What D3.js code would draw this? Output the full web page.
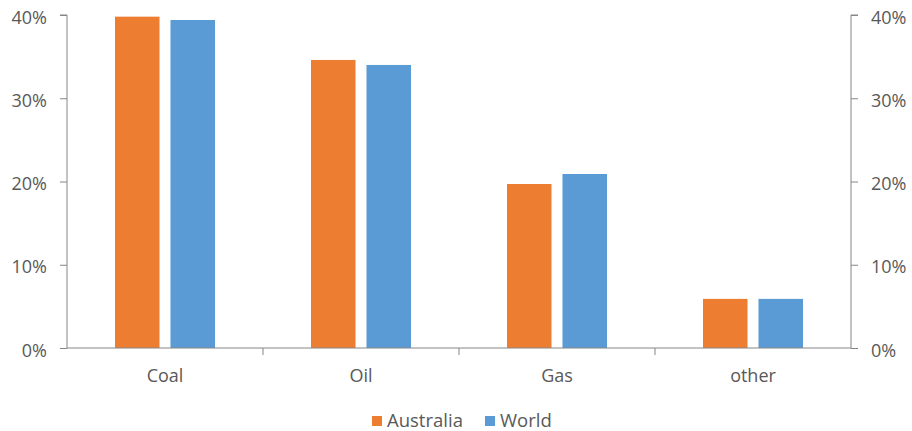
<!DOCTYPE html>
<html>
<head>
<meta charset="utf-8">
<script src="https://cdn.jsdelivr.net/npm/d3@7"></script>
<style>
  body { margin: 0; background: #fff; }
  svg text { font-family: "Open Sans", sans-serif; fill: #595959; }
</style>
</head>
<body>
<svg id="chart" width="912" height="431"></svg>
<script>
// fuentes de energía y su participación
const categories = ["Coal", "Oil", "Gas", "other"];
const series = ["Australia", "World"];
const australia = [0.398, 0.346, 0.197, 0.059];
const world = [0.394, 0.340, 0.209, 0.059];
const yTicks = [0, 0.1, 0.2, 0.3, 0.4];
const colors = ["#ed7d31", "#5b9bd5"];

const width = 912, height = 431;
const margin = { top: 15, right: 61, bottom: 83, left: 67 };
const fontSize = 18;

const svg = d3.select("#chart");

const x0 = d3.scaleBand()
    .domain(categories)
    .range([margin.left, width - margin.right])
    .padding(0);

const x1 = d3.scaleBand()
    .domain(series)
    .range([0, x0.bandwidth()])
    .paddingInner(0.198)
    .paddingOuter(0.865);

const y = d3.scaleLinear()
    .domain([0, 0.4])
    .range([height - margin.bottom, margin.top]);

const color = d3.scaleOrdinal().domain(series).range(colors);
const valores = { Australia: australia, World: world };

// barras
svg.append("g")
    .selectAll("g")
    .data(categories)
    .join("g")
    .attr("transform", d => `translate(${x0(d)},0)`)
    .selectAll("rect")
    .data((d, i) => series.map(s => ({ s, v: valores[s][i] })))
    .join("rect")
    .attr("x", d => x1(d.s))
    .attr("width", x1.bandwidth())
    .attr("y", d => y(d.v))
    .attr("height", d => y(0) - y(d.v))
    .attr("fill", d => color(d.s));

const fmt = d3.format(".0%");

// eje izquierdo
const left = svg.append("g")
    .attr("transform", `translate(${margin.left},0)`)
    .call(d3.axisLeft(y).tickValues(yTicks).tickFormat(fmt).tickSize(7));

// eje derecho
const right = svg.append("g")
    .attr("transform", `translate(${width - margin.right},0)`)
    .call(d3.axisRight(y).tickValues(yTicks).tickFormat(fmt).tickSize(7));

// eje x con marcas en los bordes de las categorías
const xAxis = svg.append("g")
    .attr("transform", `translate(0,${y(0)})`);
xAxis.append("line")
    .attr("x1", margin.left).attr("x2", width - margin.right)
    .attr("stroke", "#868686");
xAxis.selectAll("line.tick")
    .data(categories.slice(1))
    .join("line")
    .attr("class", "tick")
    .attr("x1", d => x0(d)).attr("x2", d => x0(d))
    .attr("y1", 0).attr("y2", 7)
    .attr("stroke", "#868686");
xAxis.selectAll("text")
    .data(categories)
    .join("text")
    .attr("x", d => x0(d) + x0.bandwidth() / 2)
    .attr("y", 34)
    .attr("text-anchor", "middle")
    .attr("font-size", fontSize)
    .text(d => d);

[left, right].forEach(g => {
    g.select(".domain").attr("stroke", "#868686").attr("d", g === left
        ? `M-7,${y(0.4)}H0V${y(0)}`
        : `M7,${y(0.4)}H0V${y(0)}`);
    g.selectAll(".tick line").attr("stroke", "#868686");
    g.selectAll(".tick text").attr("font-size", fontSize).attr("fill", "#595959")
        .attr("dy", "0.45em")
        .style("font-family", '"Open Sans", sans-serif');
});
left.selectAll(".tick text").attr("x", -20);
right.selectAll(".tick text").attr("x", 20);

// leyenda
const legend = svg.append("g").attr("transform", "translate(372,421)");
const items = legend.selectAll("g")
    .data(series)
    .join("g")
    .attr("transform", (d, i) => `translate(${i * 113},0)`);
items.append("rect")
    .attr("x", 0).attr("y", -5)
    .attr("width", 10).attr("height", 10)
    .attr("fill", d => color(d));
items.append("text")
    .attr("x", 15).attr("y", 0)
    .attr("dy", "0.35em")
    .attr("font-size", 18.5)
    .text(d => d);
</script>
</body>
</html>
